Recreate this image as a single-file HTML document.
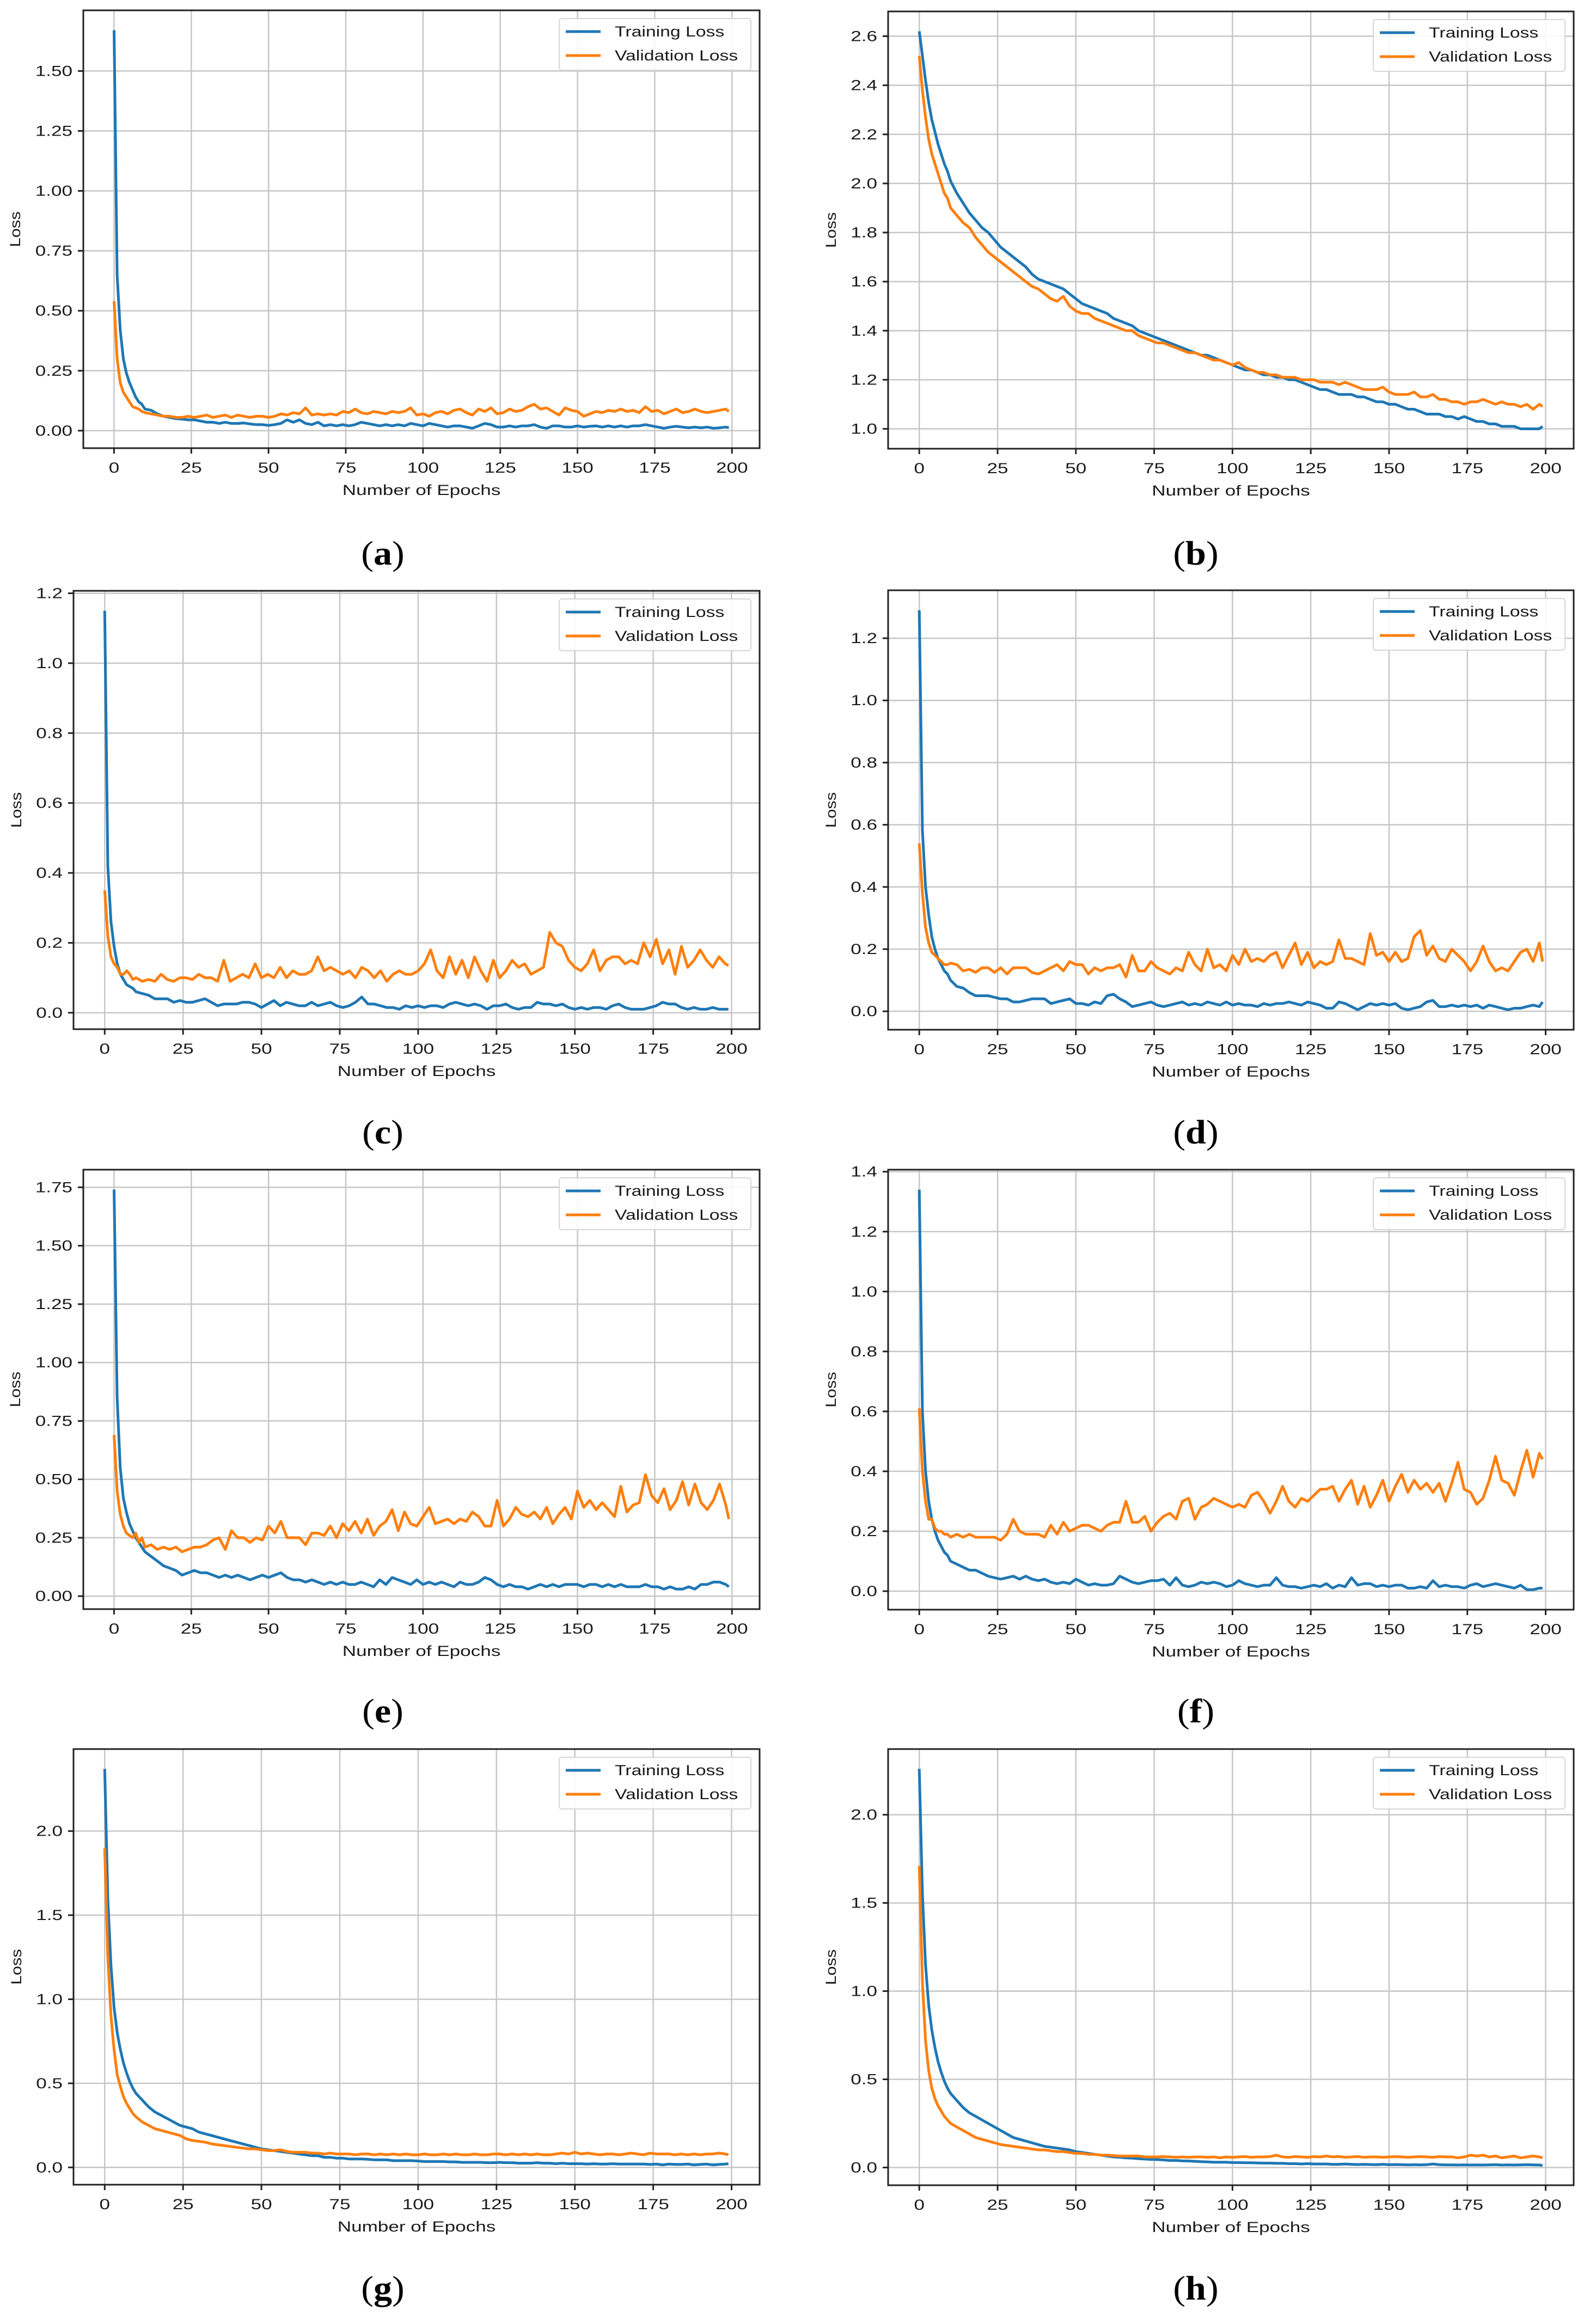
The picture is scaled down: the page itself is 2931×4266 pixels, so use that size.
<!DOCTYPE html>
<html><head><meta charset="utf-8">
<style>
html,body{margin:0;padding:0;background:#fff;}
svg{display:block;}
</style></head>
<body>
<svg id="fig" xmlns="http://www.w3.org/2000/svg" width="2931" height="4266" viewBox="0 0 2931 4266">
<rect x="0" y="0" width="2931" height="4266" fill="#fff"/>
</svg>
<script>
const epochs = [0,1,2,3,4,5,6,7,8,9,10,12,14,16,18,20,22,24,26,28,30,32,34,36,38,40,42,44,46,48,50,52,54,56,58,60,62,64,66,68,70,72,74,76,78,80,82,84,86,88,90,92,94,96,98,100,102,104,106,108,110,112,114,116,118,120,122,124,126,128,130,132,134,136,138,140,142,144,146,148,150,152,154,156,158,160,162,164,166,168,170,172,174,176,178,180,182,184,186,188,190,192,194,196,198,199];
const xTicks = [0,25,50,75,100,125,150,175,200];

const aTrain = [1.67,0.65,0.42,0.30,0.24,0.20,0.17,0.14,0.12,0.11,
0.09,0.085,0.07,0.06,0.055,0.05,0.048,0.045,0.045,0.04,
0.035,0.035,0.03,0.035,0.03,0.03,0.032,0.028,0.025,0.025,
0.022,0.025,0.03,0.045,0.035,0.045,0.03,0.025,0.035,0.02,
0.025,0.02,0.025,0.02,0.025,0.035,0.03,0.025,0.02,0.025,
0.02,0.025,0.02,0.03,0.025,0.02,0.03,0.025,0.02,0.015,
0.02,0.02,0.015,0.01,0.02,0.03,0.025,0.015,0.015,0.02,
0.015,0.02,0.02,0.025,0.015,0.01,0.02,0.02,0.015,0.015,
0.02,0.015,0.018,0.02,0.015,0.02,0.015,0.02,0.015,0.02,
0.02,0.025,0.02,0.015,0.01,0.015,0.018,0.015,0.012,0.015,
0.012,0.015,0.01,0.012,0.015,0.012];
const aVal = [0.54,0.30,0.20,0.16,0.14,0.12,0.10,0.095,0.09,0.08,
0.075,0.07,0.065,0.06,0.06,0.055,0.055,0.06,0.055,0.06,
0.065,0.055,0.06,0.065,0.055,0.065,0.06,0.055,0.06,0.06,
0.055,0.06,0.07,0.065,0.075,0.07,0.095,0.065,0.07,0.065,
0.07,0.065,0.08,0.075,0.09,0.075,0.07,0.08,0.075,0.07,
0.08,0.075,0.08,0.095,0.065,0.07,0.06,0.075,0.08,0.07,
0.085,0.09,0.075,0.065,0.09,0.08,0.095,0.07,0.075,0.09,
0.08,0.085,0.1,0.11,0.09,0.095,0.08,0.065,0.095,0.085,
0.08,0.06,0.07,0.08,0.075,0.085,0.08,0.09,0.08,0.085,
0.075,0.1,0.08,0.085,0.07,0.08,0.09,0.075,0.08,0.09,
0.08,0.075,0.08,0.085,0.09,0.08];
const aTicks = [0,0.25,0.5,0.75,1.0,1.25,1.5];

const bTrain = [2.62,2.52,2.42,2.33,2.26,2.21,2.16,2.12,2.08,2.05,
2.01,1.96,1.92,1.88,1.85,1.82,1.80,1.77,1.74,1.72,
1.70,1.68,1.66,1.63,1.61,1.60,1.59,1.58,1.57,1.55,
1.53,1.51,1.50,1.49,1.48,1.47,1.45,1.44,1.43,1.42,
1.40,1.39,1.38,1.37,1.36,1.35,1.34,1.33,1.32,1.31,
1.30,1.30,1.29,1.28,1.27,1.26,1.25,1.24,1.24,1.23,
1.22,1.22,1.21,1.21,1.20,1.20,1.19,1.18,1.17,1.16,
1.16,1.15,1.14,1.14,1.14,1.13,1.13,1.12,1.11,1.11,
1.10,1.10,1.09,1.08,1.08,1.07,1.06,1.06,1.06,1.05,
1.05,1.04,1.05,1.04,1.03,1.03,1.02,1.02,1.01,1.01,
1.01,1.00,1.00,1.00,1.00,1.01];
const bVal = [2.52,2.38,2.27,2.18,2.12,2.08,2.04,2.00,1.96,1.94,
1.90,1.87,1.84,1.82,1.78,1.75,1.72,1.70,1.68,1.66,
1.64,1.62,1.60,1.58,1.57,1.55,1.53,1.52,1.54,1.50,
1.48,1.47,1.47,1.45,1.44,1.43,1.42,1.41,1.40,1.40,
1.38,1.37,1.36,1.35,1.35,1.34,1.33,1.32,1.31,1.31,
1.30,1.29,1.28,1.28,1.27,1.26,1.27,1.25,1.24,1.23,
1.23,1.22,1.22,1.21,1.21,1.21,1.20,1.20,1.20,1.19,
1.19,1.19,1.18,1.19,1.18,1.17,1.16,1.16,1.16,1.17,
1.15,1.14,1.14,1.14,1.15,1.13,1.13,1.14,1.12,1.12,
1.11,1.11,1.10,1.11,1.11,1.12,1.11,1.10,1.11,1.10,
1.10,1.09,1.10,1.08,1.10,1.09];
const bTicks = [1.0,1.2,1.4,1.6,1.8,2.0,2.2,2.4,2.6];

const cTrain = [1.15,0.42,0.26,0.19,0.14,0.11,0.095,0.08,0.075,0.07,
0.06,0.055,0.05,0.04,0.04,0.04,0.03,0.035,0.03,0.03,
0.035,0.04,0.03,0.02,0.025,0.025,0.025,0.03,0.03,0.025,
0.015,0.025,0.035,0.02,0.03,0.025,0.02,0.02,0.03,0.02,
0.025,0.03,0.02,0.015,0.02,0.03,0.045,0.025,0.025,0.02,
0.015,0.015,0.01,0.02,0.015,0.02,0.015,0.02,0.02,0.015,
0.025,0.03,0.025,0.02,0.025,0.02,0.01,0.02,0.02,0.025,
0.015,0.01,0.015,0.015,0.03,0.025,0.025,0.02,0.025,0.015,
0.01,0.015,0.01,0.015,0.015,0.01,0.02,0.025,0.015,0.01,
0.01,0.01,0.015,0.02,0.03,0.025,0.025,0.015,0.01,0.015,
0.01,0.01,0.015,0.01,0.01,0.01];
const cVal = [0.35,0.22,0.16,0.14,0.13,0.11,0.11,0.12,0.11,0.095,
0.10,0.09,0.095,0.09,0.11,0.095,0.09,0.10,0.10,0.095,
0.11,0.10,0.10,0.09,0.15,0.09,0.10,0.11,0.10,0.14,
0.10,0.11,0.10,0.13,0.10,0.12,0.11,0.11,0.12,0.16,
0.12,0.13,0.12,0.11,0.12,0.10,0.13,0.12,0.10,0.12,
0.09,0.11,0.12,0.11,0.11,0.12,0.14,0.18,0.12,0.10,
0.16,0.11,0.15,0.10,0.16,0.12,0.09,0.15,0.10,0.12,
0.15,0.13,0.14,0.11,0.12,0.13,0.23,0.20,0.19,0.15,
0.13,0.12,0.14,0.18,0.12,0.15,0.16,0.16,0.14,0.15,
0.14,0.20,0.16,0.21,0.14,0.18,0.11,0.19,0.13,0.15,
0.18,0.15,0.13,0.16,0.14,0.135];
const cTicks = [0.0,0.2,0.4,0.6,0.8,1.0,1.2];

const dTrain = [1.29,0.58,0.40,0.31,0.24,0.20,0.17,0.15,0.13,0.12,
0.10,0.08,0.075,0.06,0.05,0.05,0.05,0.045,0.04,0.04,
0.03,0.03,0.035,0.04,0.04,0.04,0.025,0.03,0.035,0.04,
0.025,0.025,0.02,0.03,0.025,0.05,0.055,0.04,0.03,0.015,
0.02,0.025,0.03,0.02,0.015,0.02,0.025,0.03,0.02,0.025,
0.02,0.03,0.025,0.02,0.03,0.02,0.025,0.02,0.02,0.015,
0.025,0.02,0.025,0.025,0.03,0.025,0.02,0.03,0.025,0.02,
0.01,0.01,0.03,0.025,0.015,0.005,0.015,0.025,0.02,0.025,
0.02,0.025,0.01,0.005,0.01,0.015,0.03,0.035,0.015,0.015,
0.02,0.015,0.02,0.015,0.02,0.01,0.02,0.015,0.01,0.005,
0.01,0.01,0.015,0.02,0.015,0.03];
const dVal = [0.54,0.38,0.27,0.22,0.19,0.18,0.17,0.16,0.15,0.15,
0.155,0.15,0.13,0.135,0.125,0.14,0.14,0.125,0.14,0.12,
0.14,0.14,0.14,0.125,0.12,0.13,0.14,0.15,0.13,0.16,
0.15,0.15,0.12,0.14,0.13,0.14,0.14,0.15,0.11,0.18,
0.13,0.13,0.16,0.14,0.13,0.12,0.14,0.13,0.19,0.15,
0.13,0.20,0.14,0.15,0.13,0.18,0.15,0.20,0.16,0.17,
0.16,0.18,0.19,0.14,0.18,0.22,0.15,0.19,0.14,0.16,
0.15,0.16,0.23,0.17,0.17,0.16,0.15,0.25,0.18,0.19,
0.16,0.19,0.16,0.17,0.24,0.26,0.18,0.21,0.17,0.16,
0.20,0.18,0.16,0.13,0.16,0.21,0.16,0.13,0.14,0.13,
0.16,0.19,0.20,0.16,0.22,0.16];
const dTicks = [0.0,0.2,0.4,0.6,0.8,1.0,1.2];

const eTrain = [1.74,0.85,0.55,0.42,0.36,0.31,0.28,0.25,0.23,0.21,
0.19,0.17,0.15,0.13,0.12,0.11,0.09,0.10,0.11,0.10,
0.10,0.09,0.08,0.09,0.08,0.09,0.08,0.07,0.08,0.09,
0.08,0.09,0.10,0.08,0.07,0.07,0.06,0.07,0.06,0.05,
0.06,0.05,0.06,0.05,0.05,0.06,0.05,0.04,0.07,0.05,
0.08,0.07,0.06,0.05,0.07,0.05,0.06,0.05,0.06,0.05,
0.04,0.06,0.05,0.05,0.06,0.08,0.07,0.05,0.04,0.05,
0.04,0.04,0.03,0.04,0.05,0.04,0.05,0.04,0.05,0.05,
0.05,0.04,0.05,0.05,0.04,0.05,0.04,0.05,0.04,0.04,
0.04,0.05,0.04,0.04,0.03,0.04,0.03,0.03,0.04,0.03,
0.05,0.05,0.06,0.06,0.05,0.04];
const eVal = [0.69,0.45,0.35,0.30,0.27,0.26,0.25,0.27,0.23,0.25,
0.21,0.22,0.20,0.21,0.20,0.21,0.19,0.20,0.21,0.21,
0.22,0.24,0.25,0.20,0.28,0.25,0.25,0.23,0.25,0.24,
0.30,0.27,0.32,0.25,0.25,0.25,0.22,0.27,0.27,0.26,
0.30,0.25,0.31,0.28,0.32,0.27,0.33,0.26,0.30,0.32,
0.37,0.28,0.36,0.31,0.30,0.34,0.38,0.31,0.32,0.33,
0.31,0.33,0.32,0.36,0.34,0.30,0.30,0.41,0.30,0.33,
0.38,0.35,0.34,0.36,0.33,0.38,0.31,0.35,0.38,0.33,
0.45,0.38,0.41,0.37,0.40,0.37,0.34,0.47,0.36,0.39,
0.40,0.52,0.43,0.40,0.46,0.37,0.41,0.49,0.39,0.48,
0.40,0.37,0.41,0.48,0.39,0.33];
const eTicks = [0,0.25,0.5,0.75,1.0,1.25,1.5,1.75];

const fTrain = [1.34,0.60,0.40,0.30,0.24,0.20,0.17,0.15,0.13,0.12,
0.10,0.09,0.08,0.07,0.07,0.06,0.05,0.045,0.04,0.045,
0.05,0.04,0.05,0.04,0.035,0.04,0.03,0.025,0.03,0.025,
0.04,0.03,0.02,0.025,0.02,0.02,0.025,0.05,0.04,0.03,
0.025,0.03,0.035,0.035,0.04,0.02,0.045,0.02,0.015,0.02,
0.03,0.025,0.03,0.025,0.015,0.02,0.035,0.025,0.02,0.015,
0.02,0.02,0.045,0.02,0.015,0.015,0.01,0.015,0.02,0.015,
0.025,0.01,0.02,0.015,0.045,0.02,0.025,0.025,0.015,0.02,
0.015,0.02,0.02,0.01,0.01,0.015,0.01,0.035,0.015,0.02,
0.015,0.015,0.01,0.02,0.025,0.015,0.02,0.025,0.02,0.015,
0.01,0.02,0.005,0.005,0.01,0.01];
const fVal = [0.61,0.40,0.30,0.24,0.24,0.21,0.20,0.20,0.19,0.19,
0.18,0.19,0.18,0.19,0.18,0.18,0.18,0.18,0.17,0.19,
0.24,0.20,0.19,0.19,0.19,0.18,0.22,0.19,0.23,0.20,
0.21,0.22,0.22,0.21,0.20,0.22,0.23,0.23,0.30,0.23,
0.23,0.25,0.20,0.23,0.25,0.26,0.24,0.30,0.31,0.24,
0.28,0.29,0.31,0.30,0.29,0.28,0.29,0.28,0.32,0.33,
0.30,0.26,0.30,0.35,0.30,0.28,0.31,0.30,0.32,0.34,
0.34,0.35,0.30,0.34,0.37,0.29,0.35,0.28,0.32,0.37,
0.30,0.35,0.39,0.33,0.37,0.34,0.36,0.33,0.36,0.30,
0.36,0.43,0.34,0.33,0.29,0.31,0.37,0.45,0.37,0.36,
0.32,0.40,0.47,0.38,0.46,0.44];
const fTicks = [0.0,0.2,0.4,0.6,0.8,1.0,1.2,1.4];

const gTrain = [2.37,1.60,1.20,0.95,0.80,0.70,0.62,0.56,0.51,0.47,
0.44,0.40,0.36,0.33,0.31,0.29,0.27,0.25,0.24,0.23,
0.21,0.20,0.19,0.18,0.17,0.16,0.15,0.14,0.13,0.12,
0.11,0.105,0.10,0.095,0.09,0.085,0.08,0.075,0.07,0.07,
0.06,0.06,0.055,0.055,0.05,0.05,0.05,0.048,0.045,0.045,
0.045,0.04,0.04,0.04,0.04,0.038,0.035,0.035,0.035,0.035,
0.033,0.033,0.03,0.03,0.03,0.03,0.028,0.028,0.03,0.028,
0.028,0.025,0.025,0.025,0.028,0.025,0.025,0.022,0.025,0.022,
0.022,0.022,0.02,0.022,0.02,0.02,0.022,0.02,0.02,0.02,
0.02,0.02,0.018,0.02,0.015,0.02,0.018,0.018,0.02,0.015,
0.018,0.02,0.015,0.018,0.02,0.022];
const gVal = [1.90,1.25,0.90,0.70,0.55,0.48,0.42,0.38,0.35,0.32,
0.30,0.27,0.25,0.23,0.22,0.21,0.20,0.19,0.17,0.16,
0.155,0.15,0.14,0.135,0.13,0.125,0.12,0.115,0.11,0.11,
0.105,0.10,0.10,0.105,0.095,0.09,0.09,0.09,0.085,0.085,
0.08,0.085,0.08,0.08,0.08,0.075,0.08,0.08,0.075,0.08,
0.075,0.08,0.075,0.08,0.075,0.075,0.08,0.075,0.075,0.08,
0.075,0.08,0.075,0.075,0.08,0.075,0.075,0.08,0.08,0.075,
0.08,0.075,0.08,0.075,0.08,0.075,0.075,0.08,0.085,0.08,
0.09,0.08,0.085,0.08,0.075,0.08,0.08,0.075,0.08,0.085,
0.08,0.075,0.085,0.08,0.08,0.08,0.075,0.08,0.075,0.08,
0.075,0.08,0.08,0.085,0.08,0.075];
const gTicks = [0.0,0.5,1.0,1.5,2.0];

const hTrain = [2.26,1.55,1.15,0.92,0.78,0.68,0.60,0.54,0.49,0.45,
0.42,0.38,0.34,0.31,0.29,0.27,0.25,0.23,0.21,0.19,
0.17,0.16,0.15,0.14,0.13,0.12,0.115,0.11,0.105,0.10,
0.09,0.085,0.08,0.075,0.07,0.065,0.06,0.058,0.055,0.053,
0.05,0.048,0.046,0.045,0.043,0.04,0.04,0.038,0.037,0.035,
0.033,0.032,0.03,0.03,0.03,0.028,0.028,0.027,0.027,0.026,
0.025,0.025,0.024,0.024,0.022,0.022,0.02,0.022,0.02,0.02,
0.02,0.018,0.018,0.02,0.018,0.017,0.018,0.017,0.016,0.018,
0.016,0.017,0.016,0.015,0.016,0.015,0.016,0.02,0.016,0.015,
0.015,0.014,0.015,0.014,0.015,0.014,0.015,0.016,0.014,0.015,
0.014,0.015,0.016,0.015,0.014,0.012];
const hVal = [1.71,1.05,0.72,0.55,0.45,0.39,0.35,0.32,0.29,0.27,
0.25,0.23,0.21,0.19,0.17,0.16,0.15,0.14,0.13,0.125,
0.12,0.115,0.11,0.105,0.10,0.10,0.095,0.09,0.09,0.085,
0.08,0.08,0.075,0.075,0.07,0.07,0.068,0.065,0.065,0.065,
0.065,0.06,0.06,0.06,0.062,0.06,0.058,0.06,0.058,0.06,
0.06,0.058,0.06,0.055,0.06,0.058,0.06,0.062,0.058,0.06,
0.06,0.062,0.07,0.06,0.058,0.062,0.06,0.058,0.062,0.06,
0.065,0.06,0.062,0.058,0.06,0.062,0.058,0.06,0.06,0.058,
0.06,0.062,0.06,0.058,0.06,0.062,0.06,0.058,0.062,0.06,
0.06,0.055,0.06,0.07,0.065,0.07,0.06,0.065,0.055,0.06,
0.065,0.055,0.06,0.065,0.06,0.055];
const hTicks = [0.0,0.5,1.0,1.5,2.0];

const panelLetters = ['a','b','c','d','e','f','g','h'];

const NS = 'http://www.w3.org/2000/svg';
const fig = document.getElementById('fig');
const BLUE = '#1f77b4', ORANGE = '#ff7f0e';

function el(tag, parent) { const e = document.createElementNS(NS, tag); parent.appendChild(e); return e; }
function txt(parent, x, y, s, anchor, size, sx, rot) {
  const t = el('text', parent);
  t.setAttribute('x', 0); t.setAttribute('y', 0);
  t.setAttribute('transform', 'translate(' + x + ',' + y + ')' + (rot ? ' rotate(' + rot + ')' : '') + ' scale(' + sx + ',1)');
  t.setAttribute('text-anchor', anchor);
  t.setAttribute('font-family', '"Liberation Sans", "DejaVu Sans", sans-serif');
  t.setAttribute('font-size', size);
  t.setAttribute('fill', '#1a1a1a');
  t.textContent = s;
  return t;
}

const panels = [
  {L:153, T:19, R:1395, B:823, tr:aTrain, va:aVal, ticks:aTicks, dec:2, cx:703, cy:1017},
  {L:1631, T:21, R:2890, B:824, tr:bTrain, va:bVal, ticks:bTicks, dec:1, cx:2196, cy:1017},
  {L:135, T:1085, R:1395, B:1890, tr:cTrain, va:cVal, ticks:cTicks, dec:1, cx:703, cy:2080},
  {L:1631, T:1084, R:2890, B:1891, tr:dTrain, va:dVal, ticks:dTicks, dec:1, cx:2196, cy:2080},
  {L:153, T:2148, R:1395, B:2955, tr:eTrain, va:eVal, ticks:eTicks, dec:2, cx:703, cy:3143},
  {L:1631, T:2148, R:2890, B:2956, tr:fTrain, va:fVal, ticks:fTicks, dec:1, cx:2196, cy:3143},
  {L:135, T:3212, R:1395, B:4012, tr:gTrain, va:gVal, ticks:gTicks, dec:1, cx:703, cy:4203},
  {L:1631, T:3212, R:2890, B:4013, tr:hTrain, va:hVal, ticks:hTicks, dec:1, cx:2196, cy:4203}
];

panels.forEach(function(p, i) {
  const letter = panelLetters[i];
  const g = el('g', fig);
  
  

  const xmin = -9.95, xmax = 208.95;
  const all = p.tr.concat(p.va);
  const dmin = Math.min.apply(null, all), dmax = Math.max.apply(null, all);
  const pad = (dmax - dmin) * 0.05;
  const ymin = dmin - pad, ymax = dmax + pad;
  const xs = function(v) { return p.L + (v - xmin) / (xmax - xmin) * (p.R - p.L); };
  const ys = function(v) { return p.B - (v - ymin) / (ymax - ymin) * (p.B - p.T); };

  const grid = el('g', g);
  
  
  xTicks.forEach(function(t) {
    const l = el('line', grid);
    l.setAttribute('x1', xs(t)); l.setAttribute('x2', xs(t));
    l.setAttribute('y1', p.T); l.setAttribute('y2', p.B);
    l.setAttribute('stroke', '#c6c6c6'); l.setAttribute('stroke-width', 2.5);
  });
  p.ticks.forEach(function(t) {
    const l = el('line', grid);
    l.setAttribute('x1', p.L); l.setAttribute('x2', p.R);
    l.setAttribute('y1', ys(t)); l.setAttribute('y2', ys(t));
    l.setAttribute('stroke', '#c6c6c6'); l.setAttribute('stroke-width', 2.5);
  });

  [[p.tr, BLUE, 'training-loss-line-'], [p.va, ORANGE, 'validation-loss-line-']].forEach(function(s) {
    const path = el('polyline', g);
    const pts = s[0].map(function(v, k) { return xs(epochs[k]).toFixed(1) + ',' + ys(v).toFixed(1); });
    path.setAttribute('points', pts.join(' '));
    path.setAttribute('fill', 'none');
    path.setAttribute('stroke', s[1]);
    path.setAttribute('stroke-width', 5);
    path.setAttribute('stroke-linejoin', 'round');
    
    
  });

  const fr = el('rect', g);
  fr.setAttribute('x', p.L); fr.setAttribute('y', p.T);
  fr.setAttribute('width', p.R - p.L); fr.setAttribute('height', p.B - p.T);
  fr.setAttribute('fill', 'none'); fr.setAttribute('stroke', '#222'); fr.setAttribute('stroke-width', 3);
  
  

  const xa = el('g', g);
  
  
  xTicks.forEach(function(t) {
    const l = el('line', xa);
    l.setAttribute('x1', xs(t)); l.setAttribute('x2', xs(t));
    l.setAttribute('y1', p.B); l.setAttribute('y2', p.B + 10);
    l.setAttribute('stroke', '#222'); l.setAttribute('stroke-width', 3);
    const tl = txt(xa, xs(t), p.B + 45, String(t), 'middle', 27, 1.3);
    
    
  });
  const xl = txt(xa, (p.L + p.R) / 2, p.B + 86, 'Number of Epochs', 'middle', 27, 1.3);
  
  

  const ya = el('g', g);
  
  
  p.ticks.forEach(function(t) {
    const l = el('line', ya);
    l.setAttribute('x1', p.L - 10); l.setAttribute('x2', p.L);
    l.setAttribute('y1', ys(t)); l.setAttribute('y2', ys(t));
    l.setAttribute('stroke', '#222'); l.setAttribute('stroke-width', 3);
    const tl = txt(ya, p.L - 20, ys(t) + 9, t.toFixed(p.dec), 'end', 27, 1.3);
    
    
  });
  const ylx = p.dec === 2 ? p.L - 116 : p.L - 96;
  const yl = txt(ya, ylx, (p.T + p.B) / 2, 'Loss', 'middle', 27, 1.15, -90);
  
  

  const lg = el('g', g);
  
  
  const lx = p.R - 368, ly = p.T + 15;
  const lb = el('rect', lg);
  lb.setAttribute('x', lx); lb.setAttribute('y', ly);
  lb.setAttribute('width', 352); lb.setAttribute('height', 95);
  lb.setAttribute('rx', 5); lb.setAttribute('fill', '#fff'); lb.setAttribute('fill-opacity', 0.85);
  lb.setAttribute('stroke', '#d6d6d6'); lb.setAttribute('stroke-width', 2);
  [['Training Loss', BLUE, 24], ['Validation Loss', ORANGE, 68]].forEach(function(e) {
    const entry = el('g', lg);
    
    
    const l = el('line', entry);
    l.setAttribute('x1', lx + 12); l.setAttribute('x2', lx + 76);
    l.setAttribute('y1', ly + e[2]); l.setAttribute('y2', ly + e[2]);
    l.setAttribute('stroke', e[1]); l.setAttribute('stroke-width', 5);
    txt(entry, lx + 102, ly + e[2] + 9, e[0], 'start', 27, 1.25);
  });

  const cap = el('text', g);
  cap.setAttribute('x', 0); cap.setAttribute('y', 0);
  cap.setAttribute('transform', 'translate(' + p.cx + ',' + (p.cy + 20) + ') scale(1.1,1)');
  cap.setAttribute('text-anchor', 'middle');
  cap.setAttribute('font-family', '"Liberation Serif", "DejaVu Serif", serif');
  cap.setAttribute('font-size', 62);
  cap.setAttribute('fill', '#000');
  
  
  const t1 = el('tspan', cap); t1.textContent = '(';
  const t2 = el('tspan', cap); t2.setAttribute('font-weight', 'bold'); t2.textContent = letter;
  const t3 = el('tspan', cap); t3.textContent = ')';
});
</script>
</body></html>
